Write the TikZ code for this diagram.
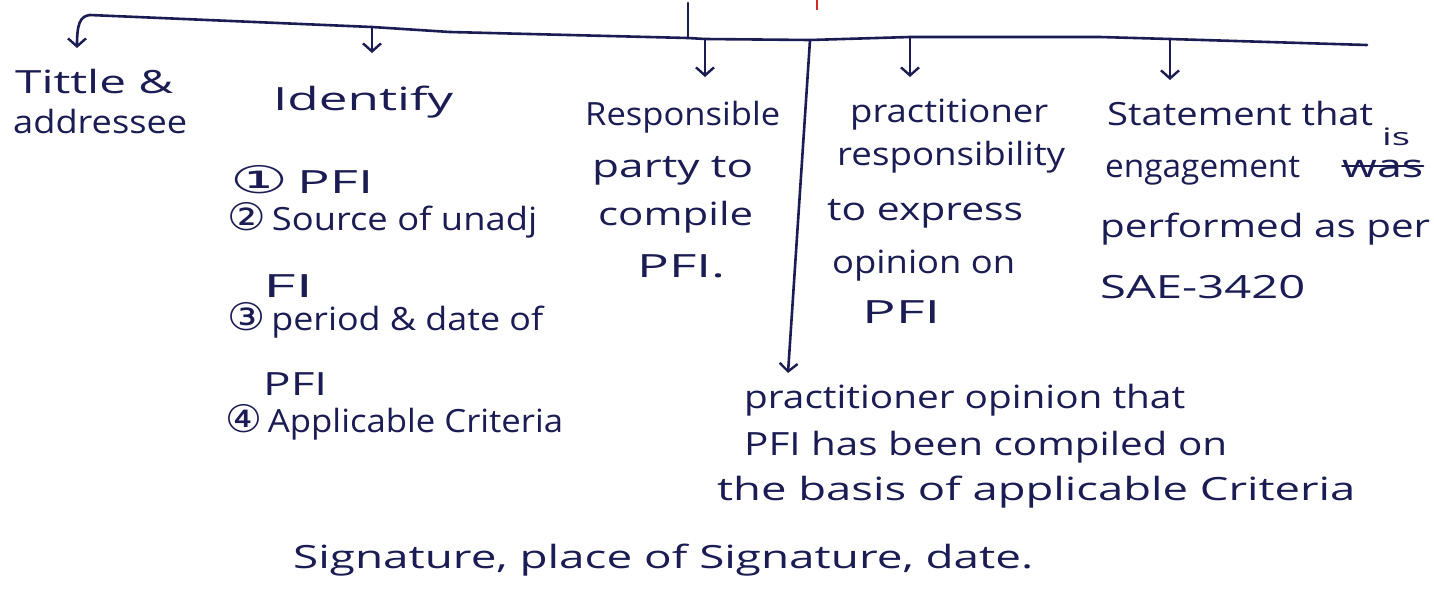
\documentclass[tikz,border=0pt]{standalone}
\usepackage{fontspec}
\setmainfont{Open Sans}
\newfontfamily\symfont{DejaVu Sans}
\usetikzlibrary{arrows.meta,calc}
\definecolor{ink}{RGB}{28,28,85}
\definecolor{penred}{RGB}{215,40,40}
\newcommand{\hw}[2]{\resizebox{#1pt}{\height}{#2}}
\newcommand{\circd}[1]{{\symfont\fontsize{38}{38}\selectfont #1}}
\begin{document}
\begin{tikzpicture}[x=1pt,y=-1pt,
  txt/.style={anchor=base west, inner sep=0pt, text=ink, font=\fontsize{32}{38}\selectfont},
  small/.style={anchor=base west, inner sep=0pt, text=ink, font=\fontsize{24}{28}\selectfont},
  pen/.style={draw=ink, line width=2.6pt, line cap=round, line join=round},
  arr/.style={pen, -{Straight Barb[length=8pt,width=18pt,line width=2.4pt]}}]
\fill[white] (0,0) rectangle (1434,614);
\useasboundingbox (0,0) rectangle (1434,614);

% main bar
\coordinate (h0) at (90,15);
\coordinate (bI) at (372,27);
\coordinate (bC) at (688,38);
\coordinate (bR) at (705,39);
\coordinate (bD) at (810,40);
\coordinate (bP) at (910,37);
\coordinate (bS) at (1170,39);
\coordinate (bE) at (1367,45);
\draw[pen] (h0) -- (bI) -- (450,32) -- (bC) -- (bR) -- (bD) -- (bP) -- (1100,37) -- (bS) -- (bE);
\draw[pen] (688,3) -- (bC);
\draw[draw=penred, line width=2.6pt] (817,0) -- (817,10);

% arrow tips
\coordinate (tT) at (77,48);
\coordinate (tI) at (372,53);
\coordinate (tR) at (705,77);
\coordinate (tP) at (910,77);
\coordinate (tS) at (1170,80);
\coordinate (tD) at (788,373);
\draw[arr] (h0) .. controls (80,16) and (77,24) .. (tT);
\draw[arr] (bI) -- (tI);
\draw[arr] (bR) -- (tR);
\draw[arr] (bP) -- (tP);
\draw[arr] (bS) -- (tS);
\draw[arr] (bD) -- (tD);

% title
\node[txt] (title1) at (15,93) {\hw{158}{Tittle \&}};
\node[txt] (title2) at (13,133) {\hw{174}{addressee}};

% identify
\node[txt] (ident) at (273,110) {\hw{180}{Identify}};
\node[txt] (i1) at (230,193) {\hw{143}{\circd{①}\,PFI}};
\node[txt] (i2) at (227,230) {\hw{310}{\circd{②}\,Source of unadj}};
\node[txt] (i2b) at (263,297) {\hw{50}{FI}};
\node[txt] (i3) at (227,330) {\hw{316}{\circd{③}\,period \& date of}};
\node[txt] (i3b) at (263,395) {\hw{64}{PFI}};
\node[txt] (i4) at (225,432) {\hw{338}{\circd{④}\,Applicable Criteria}};

% responsible
\node[txt] (r1) at (585,125) {\hw{195}{Responsible}};
\node[txt] (r2) at (592,177) {\hw{161}{party to}};
\node[txt] (r3) at (598,225) {\hw{155}{compile}};
\node[txt] (r4) at (637,277) {\hw{88}{PFI.}};

% practitioner responsibility
\node[txt] (p1) at (850,122) {\hw{198}{practitioner}};
\node[txt] (p2) at (837,165) {\hw{228}{responsibility}};
\node[txt] (p3) at (827,220) {\hw{196}{to express}};
\node[txt] (p4) at (832,273) {\hw{183}{opinion on}};
\node[txt] (p5) at (862,323) {\hw{78}{PFI}};

% statement
\node[txt] (s1) at (1107,125) {\hw{266}{Statement that}};
\node[txt] (s2) at (1105,177) {\hw{195}{engagement}};
\node[txt] (was) at (1342,177) {\hw{81}{was}};
\node[small] (is) at (1382,145) {\hw{28}{is}};
\draw[pen, line width=2pt] ($(was.base west)+(0,-11)$) -- ($(was.base east)+(0,-11)$);
\node[txt] (s3) at (1100,237) {\hw{330}{performed as per}};
\node[txt] (s4) at (1100,298) {\hw{205}{SAE-3420}};

% opinion
\node[txt] (o1) at (744,408) {\hw{441}{practitioner opinion that}};
\node[txt] (o2) at (744,455) {\hw{483}{PFI has been compiled on}};
\node[txt] (o3) at (717,500) {\hw{638}{the basis of applicable Criteria}};

% signature
\node[txt] (sig) at (293,568) {\hw{740}{Signature, place of Signature, date.}};
\end{tikzpicture}
\end{document}
